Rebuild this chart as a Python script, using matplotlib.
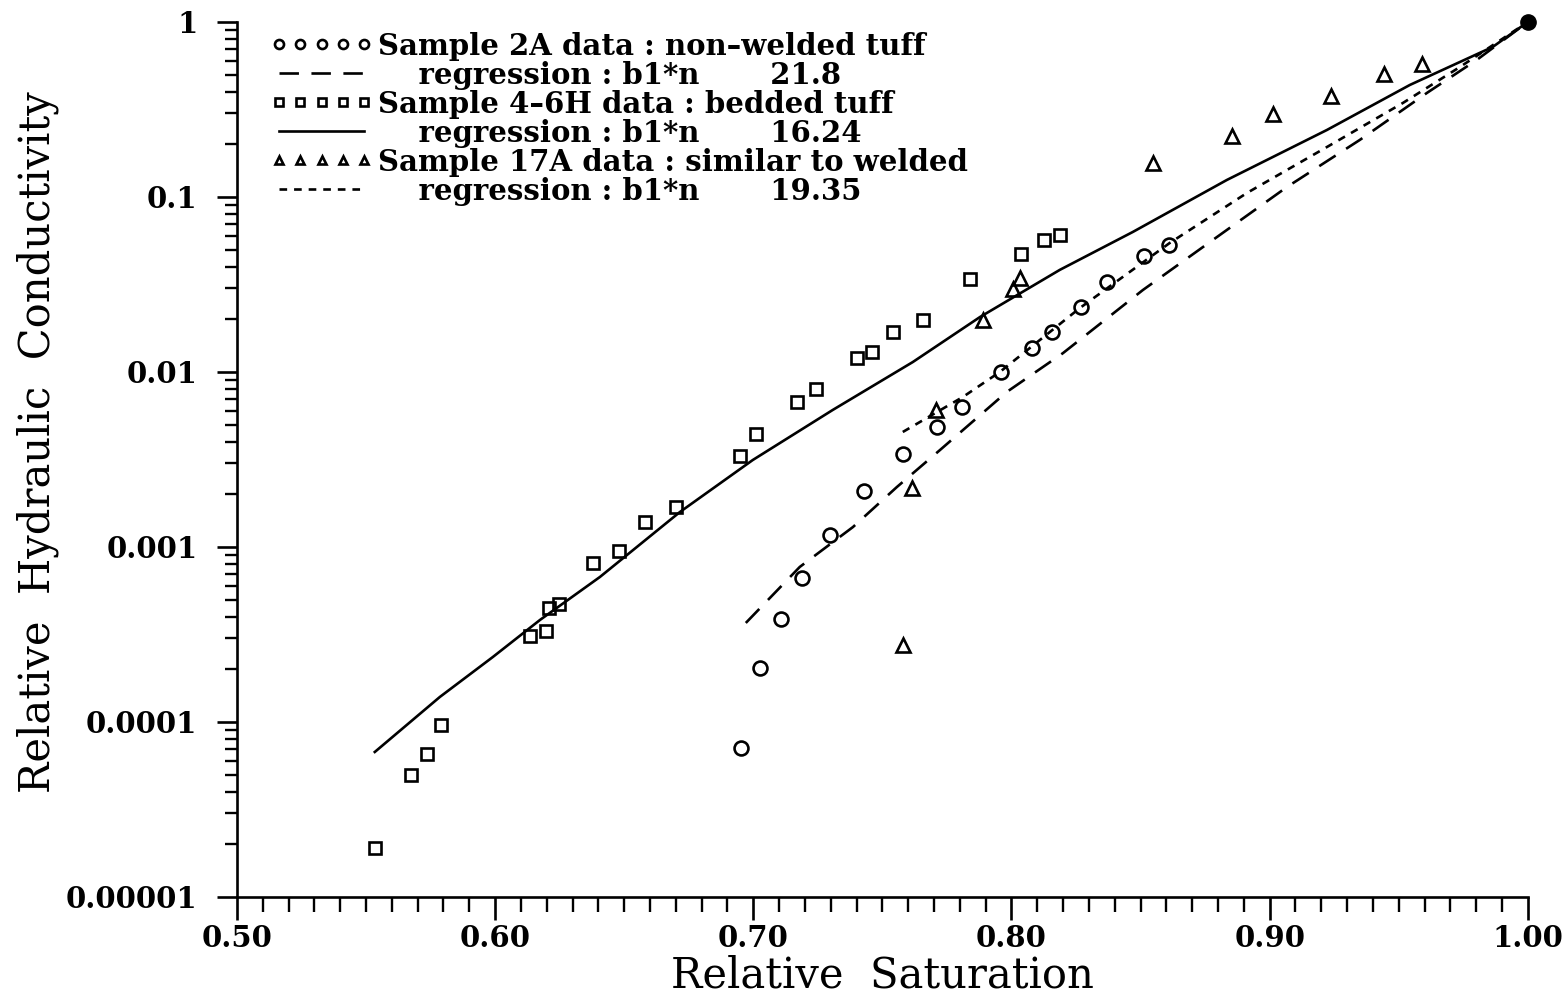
import matplotlib
matplotlib.use("Agg")
import matplotlib.pyplot as plt
from matplotlib.ticker import FixedLocator, FixedFormatter, LogLocator, MultipleLocator, NullFormatter

# ---- measured data -------------------------------------------------------
# Sample 2A : non-welded tuff
s_2a = [0.6952, 0.7026, 0.7107, 0.7188, 0.7297, 0.7428, 0.7579, 0.7711,
        0.7808, 0.7959, 0.8079, 0.8156, 0.8269, 0.8369, 0.8513, 0.8610]
k_2a = [7.1e-5, 2.04e-4, 3.9e-4, 6.65e-4, 1.17e-3, 2.09e-3, 3.4e-3, 4.85e-3,
        6.3e-3, 1.0e-2, 1.37e-2, 1.69e-2, 2.35e-2, 3.27e-2, 4.6e-2, 5.3e-2]

# Sample 4-6H : bedded tuff
s_46h = [0.5534, 0.5674, 0.5736, 0.5790, 0.6135, 0.6197, 0.6208, 0.6247,
         0.6379, 0.6479, 0.6580, 0.6700, 0.6948, 0.7010, 0.7169, 0.7242,
         0.7401, 0.7459, 0.7541, 0.7657, 0.7839, 0.8036, 0.8125, 0.8187]
k_46h = [1.9e-5, 5.0e-5, 6.6e-5, 9.6e-5, 3.1e-4, 3.3e-4, 4.5e-4, 4.7e-4,
         8.1e-4, 9.5e-4, 1.39e-3, 1.69e-3, 3.3e-3, 4.4e-3, 6.7e-3, 8.0e-3,
         1.2e-2, 1.3e-2, 1.7e-2, 1.98e-2, 3.4e-2, 4.7e-2, 5.7e-2, 6.1e-2]

# Sample 17A : similar to welded
s_17a = [0.7579, 0.7614, 0.7707, 0.7889, 0.8005, 0.8032, 0.8548, 0.8854,
         0.9012, 0.9237, 0.9442, 0.9589]
k_17a = [2.75e-4, 2.17e-3, 6.07e-3, 1.98e-2, 2.98e-2, 3.44e-2, 0.156, 0.223,
         0.298, 0.378, 0.505, 0.575]

# ---- regression curves -----------------------------------------------------
fit_2a_s = [0.6971, 0.7180, 0.7386, 0.7556, 0.7723, 0.7982, 0.8199, 0.8509,
            0.8780, 0.9067, 0.9349, 0.9609, 0.9802, 1.0]
fit_2a_k = [3.68e-4, 7.69e-4, 1.30e-3, 2.20e-3, 3.58e-3, 7.69e-3, 1.28e-2,
            2.94e-2, 5.68e-2, 0.114, 0.2117, 0.393, 0.6065, 1.0]

fit_46h_s = [0.5534, 0.5786, 0.5991, 0.6174, 0.6406, 0.6716, 0.6998, 0.7308,
             0.7618, 0.7878, 0.8187, 0.8470, 0.8834, 0.9222, 0.9543, 0.9864, 1.0]
fit_46h_k = [6.74e-5, 1.39e-4, 2.35e-4, 3.83e-4, 6.74e-4, 1.585e-3, 3.14e-3,
             6.07e-3, 1.14e-2, 2.06e-2, 3.83e-2, 6.31e-2, 0.125, 0.2415,
             0.4365, 0.72, 1.0]

fit_17a_s = [0.7579, 0.7812, 0.7955, 0.8265, 0.8613, 0.8912, 0.9222, 0.9516,
             0.9737, 1.0]
fit_17a_k = [4.54e-3, 7.20e-3, 1.0e-2, 2.32e-2, 5.46e-2, 0.1054, 0.193, 0.3444,
             0.553, 1.0]

# fully saturated end point shared by all samples
sat_s = [1.0]
sat_k = [1.0]

# fitted b1*n values
b1n = ["21.8", "16.24", "19.35"]

# axis ticks
x_ticks = [0.50, 0.60, 0.70, 0.80, 0.90, 1.00]
x_labels = ["0.50", "0.60", "0.70", "0.80", "0.90", "1.00"]
y_ticks = [1e-5, 1e-4, 1e-3, 1e-2, 1e-1, 1]
y_labels = ["0.00001", "0.0001", "0.001", "0.01", "0.1", "1"]

# ---- figure ------------------------------------------------------------------
plt.rcParams["font.family"] = ["DejaVu Serif"]
plt.rcParams["lines.scale_dashes"] = False

fig = plt.figure(figsize=(15.68, 10.02), dpi=100)
ax = fig.add_axes([0.1511, 0.1048, 0.8233, 0.8733])

mk = dict(linestyle="none", markerfacecolor="none", markeredgecolor="black",
          markeredgewidth=1.9)
reg = "    regression : b1*n       "
h_2a, = ax.plot(s_2a, k_2a, marker="o", markersize=10, **mk,
                label="Sample 2A data : non\u2013welded tuff")
f_2a, = ax.plot(fit_2a_s, fit_2a_k, color="black", lw=1.9, dashes=(14, 9),
                label=reg + b1n[0])
h_46h, = ax.plot(s_46h, k_46h, marker="s", markersize=8.5, **mk,
                 label="Sample 4\u20136H data : bedded tuff")
f_46h, = ax.plot(fit_46h_s, fit_46h_k, color="black", lw=1.9,
                 label=reg + b1n[1])
h_17a, = ax.plot(s_17a, k_17a, marker="^", markersize=9.5, **mk,
                 label="Sample 17A data : similar to welded")
f_17a, = ax.plot(fit_17a_s, fit_17a_k, color="black", lw=1.9, dashes=(5.5, 5),
                 label=reg + b1n[2])
ax.plot(sat_s, sat_k, marker="o", color="black", markersize=11,
        linestyle="none", clip_on=False)

ax.set_yscale("log")
ax.set_xlim(0.5, 1.0)
ax.set_ylim(1e-5, 1.0)

for side in ("top", "right"):
    ax.spines[side].set_visible(False)
for side in ("left", "bottom"):
    ax.spines[side].set_linewidth(1.9)

ax.xaxis.set_major_locator(FixedLocator(x_ticks))
ax.xaxis.set_major_formatter(FixedFormatter(x_labels))
ax.xaxis.set_minor_locator(MultipleLocator(0.01))
ax.yaxis.set_major_locator(FixedLocator(y_ticks))
ax.yaxis.set_major_formatter(FixedFormatter(y_labels))
ax.yaxis.set_minor_locator(LogLocator(base=10, subs=[2, 3, 4, 5, 6, 7, 8, 9], numticks=20))
ax.yaxis.set_minor_formatter(NullFormatter())

ax.tick_params(axis="x", which="major", direction="out", length=16.5, width=1.9, pad=3)
ax.tick_params(axis="x", which="minor", direction="out", length=11, width=1.7)
ax.tick_params(axis="y", which="major", direction="out", length=14.5, width=1.9, pad=14)
ax.tick_params(axis="y", which="minor", direction="out", length=8.5, width=1.7)
for lab in ax.get_xticklabels() + ax.get_yticklabels():
    lab.set_fontsize(21)
    lab.set_fontweight("bold")

ax.set_xlabel("Relative  Saturation", fontsize=30, labelpad=1)
ax.set_ylabel("Relative  Hydraulic  Conductivity", fontsize=30)
ax.yaxis.set_label_coords(-0.138, 0.52)

leg = ax.legend(handles=[h_2a, f_2a, h_46h, f_46h, h_17a, f_17a],
                loc="upper left", bbox_to_anchor=(0.026, 0.989),
                frameon=False, numpoints=5, markerscale=0.65,
                handlelength=3.5, handletextpad=0.2, labelspacing=0.0,
                borderpad=0, borderaxespad=0,
                prop={"family": "DejaVu Serif", "weight": "bold", "size": 21})

fig.savefig("out.png", dpi=100)
